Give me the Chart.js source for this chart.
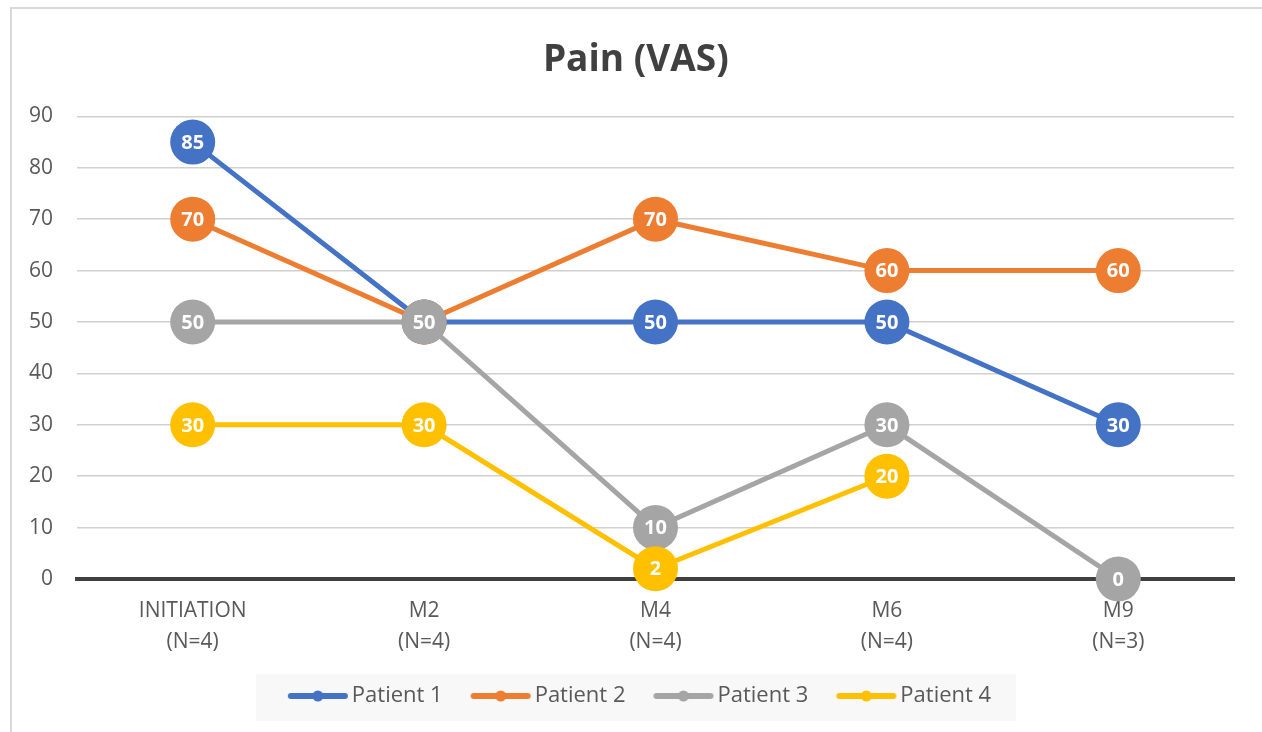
<!DOCTYPE html>
<html>
<head>
<meta charset="utf-8">
<script src="https://cdn.jsdelivr.net/npm/chart.js@4.4.1/dist/chart.umd.min.js"></script>
<style>
  html, body { margin: 0; padding: 0; background: #fff; }
  #wrap { position: relative; width: 1262px; height: 732px; }
  #frame { position: absolute; left: 10px; top: 7px; right: -4px; bottom: -4px;
           border-left: 2px solid #D9D9D9; border-top: 2px solid #D9D9D9; }
  canvas { position: absolute; left: 0; top: 0; }
</style>
</head>
<body>
<div id="wrap">
  <div id="frame"></div>
  <canvas id="chart" width="1262" height="732"></canvas>
</div>
<script>
// ---------------- DATA ----------------
const categories = [
  ['INITIATION', '(N=4)'],
  ['M2', '(N=4)'],
  ['M4', '(N=4)'],
  ['M6', '(N=4)'],
  ['M9', '(N=3)']
];
const seriesNames = ['Patient 1', 'Patient 2', 'Patient 3', 'Patient 4'];
const patient1 = [85, 50, 50, 50, 30];
const patient2 = [70, 50, 70, 60, 60];
const patient3 = [50, 50, 10, 30, 0];
const patient4 = [30, 30, 2, 20, null];
const seriesColors = ['#4472C4', '#ED7D31', '#A5A5A5', '#FFC000'];
const yTicks = [0, 10, 20, 30, 40, 50, 60, 70, 80, 90];

const FONT = '"Open Sans", "DejaVu Sans", sans-serif';
const TEXT = '#595959';

// маленькая картинка "линия с точкой" для легенды (слева прозрачный отступ)
function legendSample(color) {
  const c = document.createElement('canvas');
  c.width = 70;
  c.height = 14;
  const g = c.getContext('2d');
  g.strokeStyle = color;
  g.lineWidth = 6;
  g.lineCap = 'round';
  g.beginPath();
  g.moveTo(12, 7);
  g.lineTo(66, 7);
  g.stroke();
  g.fillStyle = color;
  g.beginPath();
  g.arc(39, 7, 5.5, 0, Math.PI * 2);
  g.fill();
  return c;
}

// подписи значений внутри маркеров
const pointLabels = {
  id: 'pointLabels',
  afterDatasetDraw(chart, args) {
    const ds = chart.data.datasets[args.index];
    const ctx = chart.ctx;
    ctx.save();
    ctx.font = 'bold 20px ' + FONT;
    ctx.fillStyle = '#fff';
    ctx.textAlign = 'center';
    ctx.textBaseline = 'middle';
    args.meta.data.forEach((pt, i) => {
      const v = ds.data[i];
      if (v === null || v === undefined) return;
      ctx.fillText(String(v), pt.x, pt.y + 1);
    });
    ctx.restore();
  }
};

// легенда чуть правее центра, как в оригинале, и светлый фон под ней
const legendBg = {
  id: 'legendBg',
  afterLayout(chart) {
    if (chart.legend) chart.legend.left += 16;
  },
  beforeDraw(chart) {
    const lg = chart.legend;
    if (!lg || !lg.legendHitBoxes || !lg.legendHitBoxes.length) return;
    const boxes = lg.legendHitBoxes;
    const left = Math.min(...boxes.map(b => b.left));
    const right = Math.max(...boxes.map(b => b.left + b.width));
    const cy = boxes[0].top + boxes[0].height / 2;
    const ctx = chart.ctx;
    ctx.save();
    ctx.fillStyle = '#F8F8F8';
    ctx.fillRect(left - 31, cy - 22, (right - left) + 56, 47);
    ctx.restore();
  }
};

const allSeries = [patient1, patient2, patient3, patient4];

const ctx = document.getElementById('chart').getContext('2d');
new Chart(ctx, {
  type: 'line',
  data: {
    labels: categories,
    datasets: allSeries.map((values, i) => ({
      label: seriesNames[i],
      data: values,
      borderColor: seriesColors[i],
      backgroundColor: seriesColors[i],
      pointBackgroundColor: seriesColors[i],
      pointBorderWidth: 0,
      borderWidth: 5,
      pointRadius: 22.5,
      pointHoverRadius: 22.5,
      pointStyle: 'circle',
      tension: 0,
      clip: false,
      spanGaps: false,
      order: allSeries.length - i   // последние серии поверх
    }))
  },
  options: {
    responsive: false,
    animation: false,
    layout: { padding: { left: 28, right: 28, top: 0, bottom: 15 } },
    plugins: {
      title: {
        display: true,
        text: ' Pain (VAS)',
        color: '#404040',
        font: { family: FONT, size: 37, weight: 'bold', lineHeight: 1.2 },
        padding: { top: 38, bottom: 34 }
      },
      legend: {
        display: true,
        position: 'bottom',
        sort: (a, b) => a.datasetIndex - b.datasetIndex,
        labels: {
          color: TEXT,
          font: { family: FONT, size: 22 },
          usePointStyle: true,
          pointStyleWidth: 54,
          padding: 27,
          generateLabels: (chart) => chart.data.datasets.map((ds, i) => ({
            text: ds.label,
            datasetIndex: i,
            fontColor: TEXT,
            pointStyle: legendSample(seriesColors[i]),
            lineWidth: 0,
            hidden: false
          }))
        }
      },
      tooltip: { enabled: false }
    },
    scales: {
      x: {
        offset: true,
        grid: { display: false, drawTicks: false },
        border: { display: true, color: '#404040', width: 4 },
        ticks: {
          color: TEXT,
          font: { family: FONT, size: 21, lineHeight: 1.476 },
          padding: 17,
          maxRotation: 0,
          autoSkip: false
        },
        afterFit: (scale) => { scale.height = 79; }
      },
      y: {
        min: 0,
        max: 90,
        afterBuildTicks: (scale) => { scale.ticks = yTicks.map(v => ({ value: v })); },
        grid: {
          drawTicks: false,
          lineWidth: 1.5,
          color: (c) => (c.tick && c.tick.value === 0) ? 'rgba(0,0,0,0)' : '#D0D0D0'
        },
        border: { display: false },
        ticks: {
          color: TEXT,
          font: { family: FONT, size: 21 },
          padding: 24
        },
        afterFit: (scale) => { scale.width = 49; }
      }
    }
  },
  plugins: [legendBg, pointLabels]
});
</script>
</body>
</html>
